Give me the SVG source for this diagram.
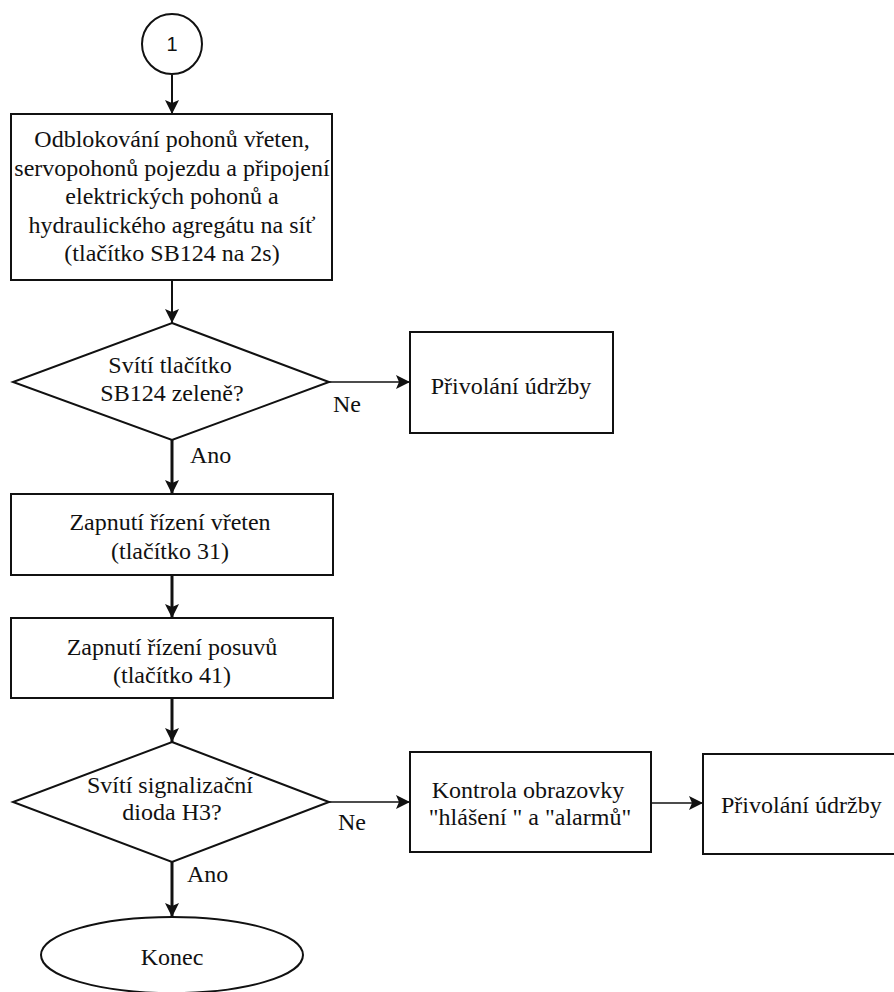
<svg xmlns="http://www.w3.org/2000/svg" width="894" height="992" viewBox="0 0 894 992">
  <style>
    .shape { fill: #ffffff; stroke: #111111; stroke-width: 2; }
    .txt { font-family: 'Liberation Serif', 'DejaVu Serif', 'Times New Roman', serif; font-size: 24px; fill: #111111; text-anchor: middle; }
    .lbl { font-family: 'Liberation Serif', 'DejaVu Serif', 'Times New Roman', serif; font-size: 24px; fill: #111111; }
    .num { font-family: 'Liberation Sans', Arial, sans-serif; font-size: 20px; fill: #111111; text-anchor: middle; }
    .edge { fill: none; stroke: #111111; stroke-width: 2; }
    .edge.thick { stroke-width: 3; }
    .edge.thin { stroke-width: 1.6; }
  </style>
  <defs>
    <marker id="arrow" viewBox="0 0 14 14" refX="14" refY="7" markerWidth="14" markerHeight="14" markerUnits="userSpaceOnUse" orient="auto">
      <path d="M0,0 L14,7 L0,14 L3,7 Z" fill="#111111"/>
    </marker>
  </defs>

  <rect width="894" height="992" fill="#ffffff"/>

  <!-- connectors -->
  <g id="connectors">
    <line class="edge" x1="172" y1="75" x2="172" y2="114" marker-end="url(#arrow)"/>
    <line class="edge" x1="172" y1="280" x2="172" y2="323" marker-end="url(#arrow)"/>
    <line class="edge thin" x1="329" y1="382" x2="410" y2="382" marker-end="url(#arrow)"/>
    <line class="edge thick" x1="172" y1="440" x2="172" y2="494" marker-end="url(#arrow)"/>
    <line class="edge thick" x1="172" y1="575" x2="172" y2="618" marker-end="url(#arrow)"/>
    <line class="edge thick" x1="172" y1="698" x2="172" y2="742" marker-end="url(#arrow)"/>
    <line class="edge thin" x1="329" y1="802" x2="410" y2="802" marker-end="url(#arrow)"/>
    <line class="edge thin" x1="651" y1="803" x2="703" y2="803" marker-end="url(#arrow)"/>
    <line class="edge thick" x1="172" y1="862" x2="172" y2="917" marker-end="url(#arrow)"/>
    <text class="lbl" font-family="Liberation Serif, serif" x="333" y="412">Ne</text>
    <text class="lbl" font-family="Liberation Serif, serif" x="190" y="463">Ano</text>
    <text class="lbl" font-family="Liberation Serif, serif" x="338" y="830">Ne</text>
    <text class="lbl" font-family="Liberation Serif, serif" x="187" y="882">Ano</text>
  </g>

  <!-- start connector -->
  <g id="start">
    <circle class="shape" cx="172" cy="44" r="30"/>
    <text class="num" x="172" y="51">1</text>
  </g>

  <g id="unblock">
    <rect class="shape" x="11" y="114" width="321" height="166"/>
    <text class="txt" x="172" y="147">Odblokování pohonů vřeten,</text>
    <text class="txt" x="172" y="176">servopohonů pojezdu a připojení</text>
    <text class="txt" x="172" y="204">elektrických pohonů a</text>
    <text class="txt" x="172" y="233">hydraulického agregátu na síť</text>
    <text class="txt" x="172" y="261">(tlačítko SB124 na 2s)</text>
  </g>

  <g id="check-sb124">
    <polygon class="shape" points="172,323 329,382 172,440 13,382"/>
    <text class="txt" x="170" y="373">Svítí tlačítko</text>
    <text class="txt" x="172" y="401">SB124 zeleně?</text>
  </g>

  <g id="maintenance-1">
    <rect class="shape" x="410" y="332" width="203" height="101"/>
    <text class="txt" x="511" y="394">Přivolání údržby</text>
  </g>

  <g id="spindle-control">
    <rect class="shape" x="11" y="494" width="322" height="81"/>
    <text class="txt" x="170" y="530">Zapnutí řízení vřeten</text>
    <text class="txt" x="170" y="559">(tlačítko 31)</text>
  </g>

  <g id="feed-control">
    <rect class="shape" x="11" y="618" width="322" height="80"/>
    <text class="txt" x="172" y="655">Zapnutí řízení posuvů</text>
    <text class="txt" x="172" y="683">(tlačítko 41)</text>
  </g>

  <g id="check-h3">
    <polygon class="shape" points="172,742 329,802 172,862 13,802"/>
    <text class="txt" x="170" y="793">Svítí signalizační</text>
    <text class="txt" x="172" y="820">dioda H3?</text>
  </g>

  <g id="screen-check">
    <rect class="shape" x="410" y="752" width="241" height="100"/>
    <text class="txt" x="528" y="798">Kontrola obrazovky</text>
    <text class="txt" x="530" y="825">"hlášení " a "alarmů"</text>
  </g>

  <g id="maintenance-2">
    <rect class="shape" x="703" y="754" width="194" height="100"/>
    <text class="lbl" x="721" y="813">Přivolání údržby</text>
  </g>

  <g id="end">
    <ellipse class="shape" cx="172" cy="955" rx="131" ry="38"/>
    <text class="txt" x="172" y="965">Konec</text>
  </g>
</svg>
